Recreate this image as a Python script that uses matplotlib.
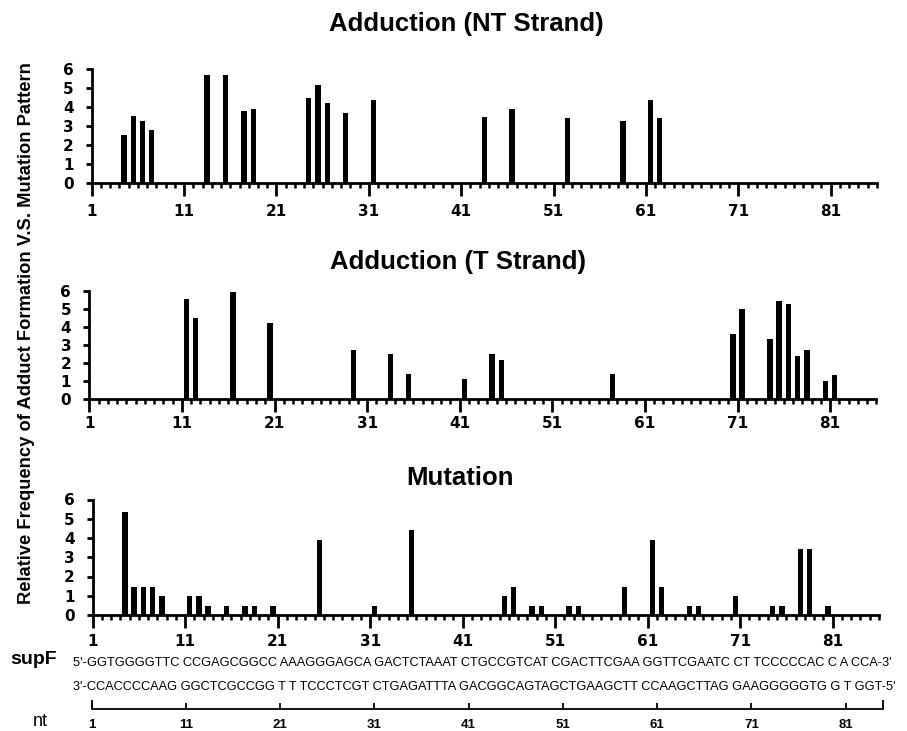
import numpy as np
import matplotlib.pyplot as plt

plt.rcParams['font.family'] = ['Liberation Sans', 'DejaVu Sans']

W, H = 907, 731

# nucleotide positions and relative frequencies
nt_strand_pos = [4, 5, 6, 7, 13, 15, 17, 18, 24, 25, 26, 28, 31, 43, 46, 52, 58, 61, 62]
nt_strand_val = [2.52, 3.52, 3.25, 2.78, 5.65, 5.65, 3.78, 3.9, 4.46, 5.16, 4.22, 3.69, 4.37,
                 3.45, 3.9, 3.41, 3.24, 4.37, 3.41]

t_strand_pos = [11, 12, 16, 20, 29, 33, 35, 41, 44, 45, 57, 70, 71, 74, 75, 76, 77, 78, 80, 81]
t_strand_val = [5.54, 4.5, 5.94, 4.21, 2.7, 2.51, 1.37, 1.13, 2.51, 2.18, 1.37, 3.6, 5.0,
                3.34, 5.43, 5.28, 2.36, 2.7, 1.0, 1.33]

mutation_pos = [4, 5, 6, 7, 8, 11, 12, 13, 15, 17, 18, 20, 25, 31, 35, 45, 46, 48, 49, 52, 53,
                58, 61, 62, 65, 66, 70, 74, 75, 77, 78, 80]
mutation_val = [5.37, 1.46, 1.46, 1.46, 0.98, 0.98, 0.98, 0.49, 0.49, 0.49, 0.49, 0.49, 3.9, 0.49,
                4.39, 0.98, 1.46, 0.49, 0.49, 0.49, 0.49, 1.46, 3.9, 1.46, 0.49, 0.49, 0.98,
                0.49, 0.49, 3.41, 3.41, 0.49]

tick_pos = list(range(1, 82, 10))
tick_labels = [str(t) for t in tick_pos]

seq_top = "5'-GGTGGGGTTC CCGAGCGGCC AAAGGGAGCA GACTCTAAAT CTGCCGTCAT CGACTTCGAA GGTTCGAATC CT TCCCCCAC C A CCA-3'"
seq_bottom = "3'-CCACCCCAAG GGCTCGCCGG T T TCCCTCGT CTGAGATTTA GACGGCAGTAGCTGAAGCTT CCAAGCTTAG GAAGGGGGTG G T GGT-5'"

fig = plt.figure(figsize=(W / 100, H / 100), dpi=100)


def add_px_axes(left, right, top, bottom):
    return fig.add_axes([left / W, 1 - bottom / H, (right - left) / W, (bottom - top) / H])


def draw_panel(ax, pos, vals, pad):
    ax.bar(np.array(pos) + 0.5, vals, width=0.58, color='black')
    ax.set_xlim(1, 86)
    ax.set_ylim(0, 6)
    ax.spines[['top', 'right']].set_visible(False)
    for s in ['left', 'bottom']:
        ax.spines[s].set_linewidth(2.0)
    ax.set_xticks(tick_pos)
    ax.set_xticklabels(tick_labels)
    ax.set_xticks(np.arange(1, 87), minor=True)
    ax.set_yticks(range(7))
    ax.tick_params(axis='x', which='major', length=9.5, width=2, pad=pad)
    ax.tick_params(axis='x', which='minor', length=3.5, width=1.8)
    ax.tick_params(axis='y', length=4.5, width=2, pad=8.5)
    for lab in ax.get_xticklabels() + ax.get_yticklabels():
        lab.set_fontfamily('DejaVu Sans')
        lab.set_fontweight('bold')
        lab.set_fontsize(11)


ax1 = add_px_axes(91.7, 876.9, 68.7, 182.7)
draw_panel(ax1, nt_strand_pos, nt_strand_val, 6)
ax2 = add_px_axes(89.3, 876.4, 290.7, 399)
draw_panel(ax2, t_strand_pos, t_strand_val, 3)
ax3 = add_px_axes(92.5, 879, 499.5, 615)
draw_panel(ax3, mutation_pos, mutation_val, 4.5)

for label, x, y in [('Adduction (NT Strand)', 466, 24), ('Adduction (T Strand)', 458, 262),
                    ('Mutation', 460, 478)]:
    fig.text(x / W, 1 - y / H, label, ha='center', va='center', fontsize=18.5, fontweight='bold')

fig.text(27 / W, 1 - 333 / H, 'Relative Frequency of Adduct Formation V.S. Mutation Pattern',
         rotation=90, ha='center', va='center', fontsize=13.2, fontweight='bold')

# sequence rows
fig.text(10 / W, 1 - 660 / H, 'supF', ha='left', va='center', fontsize=14, fontweight='bold')
renderer = fig.canvas.get_renderer()
for txt, y, target in [(seq_top, 663, 817), (seq_bottom, 687, 822)]:
    t = fig.text(73 / W, 1 - y / H, txt, ha='left', va='center', fontsize=8.5)
    w = t.get_window_extent(renderer).width
    t.set_fontsize(8.5 * target / w)

# nt ruler
axr = add_px_axes(91.7, 883.3, 700, 709)
axr.set_xlim(1, 85)
axr.set_ylim(0, 1)
for s in ['top', 'right', 'left']:
    axr.spines[s].set_visible(False)
axr.spines['bottom'].set_linewidth(1.3)
axr.set_yticks([])
axr.set_xticks(tick_pos)
axr.set_xticklabels(tick_labels)
axr.tick_params(axis='x', direction='in', length=4, width=1.3, pad=7, labelsize=9.5)
for lab in axr.get_xticklabels():
    lab.set_fontweight('bold')
axr.vlines([1, 85], 0, 1, color='black', linewidth=1.3, clip_on=False)
fig.text(33 / W, 1 - 722 / H, 'nt', ha='left', va='center', fontsize=13)

fig.savefig('out.png', dpi=100)
